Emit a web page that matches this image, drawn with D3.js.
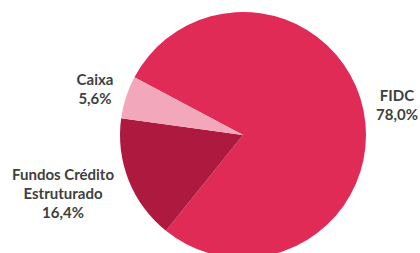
<!DOCTYPE html>
<html>
<head>
<meta charset="utf-8">
<script src="https://cdn.jsdelivr.net/npm/d3@7"></script>
<style>
  body { margin: 0; background: #fff; }
  svg text { font-family: Lato, "Open Sans", sans-serif; font-weight: 700; fill: #3f3f3f; }
</style>
</head>
<body>
<div id="vis"></div>
<script>
const width = 420, height = 253;
const categories = ['FIDC', 'Fundos Crédito Estruturado', 'Caixa'];
const values = [78.0, 16.4, 5.6];
const valueLabels = ['78,0%', '16,4%', '5,6%'];
const colors = ['#E02B57', '#AE193F', '#F2A8BA'];

// label lines + anchor positions (text placement only)
const labelLines = [['FIDC'], ['Fundos Crédito', 'Estruturado'], ['Caixa']];
const labelPos = [[397, 101], [63, 180], [95, 85]];

const cx = 243, cy = 135, radius = 123;

const svg = d3.select('#vis')
    .append('svg')
    .attr('width', width)
    .attr('height', height);

const data = categories.map((c, i) => ({ name: c, value: values[i], pct: valueLabels[i], color: colors[i], lines: labelLines[i], pos: labelPos[i] }));

const pie = d3.pie()
    .sort(null)
    .value(d => d.value)
    .startAngle(-62 * Math.PI / 180)
    .endAngle(298 * Math.PI / 180);

const arc = d3.arc().innerRadius(0).outerRadius(radius);

const g = svg.append('g').attr('transform', `translate(${cx},${cy})`);

g.selectAll('path')
    .data(pie(data))
    .join('path')
    .attr('d', arc)
    .attr('fill', d => d.data.color);

const labels = svg.selectAll('.lbl')
    .data(data)
    .join('text')
    .attr('class', 'lbl')
    .attr('text-anchor', 'middle')
    .style('font-size', '15px');

labels.each(function (d) {
    const t = d3.select(this);
    const lines = d.lines.concat([d.pct]);
    lines.forEach((l, i) => {
        t.append('tspan')
            .attr('x', d.pos[0])
            .attr('y', d.pos[1] + i * 19)
            .text(l);
    });
});
</script>
</body>
</html>
